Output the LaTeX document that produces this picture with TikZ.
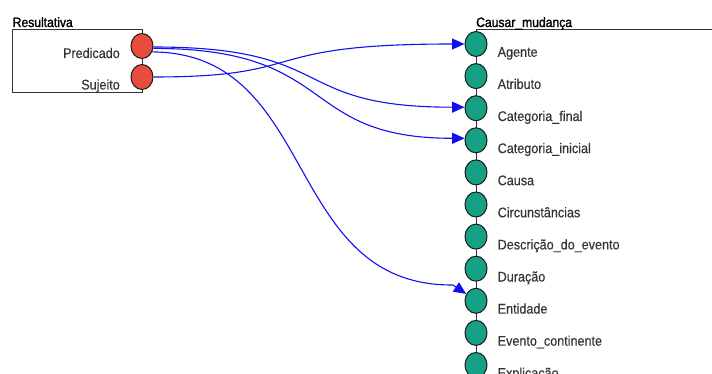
\documentclass[tikz,border=0pt]{standalone}
\usepackage{fontspec}
\setmainfont[FakeStretch=0.9,FakeBold=0.3]{Liberation Sans}
\newfontfamily\titlefont[FakeStretch=0.9,FakeBold=1.6]{Liberation Sans}
\usetikzlibrary{shapes.geometric,arrows.meta}
\definecolor{rolered}{HTML}{E74C3C}
\definecolor{rolegreen}{HTML}{16A085}
\definecolor{labelgray}{HTML}{333333}
\definecolor{framegray}{HTML}{333333}
\definecolor{linkblue}{HTML}{1010F0}
\begin{document}
\begin{tikzpicture}[x=1pt,y=-1pt,
  frame/.style={draw=framegray, line width=0.9pt, inner sep=0pt, anchor=north west},
  fe/.style={ellipse, draw=black!90, line width=1pt, minimum width=22pt, minimum height=25pt, inner sep=0pt},
  srcfe/.style={fe, fill=rolered},
  tgtfe/.style={fe, fill=rolegreen},
  felabel/.style={font=\fontsize{14}{16}\selectfont, text=labelgray, inner sep=0pt},
  frametitle/.style={font=\titlefont\fontsize{13.5}{16}\selectfont, anchor=base west, inner sep=0pt},
  link/.style={draw=linkblue, line width=1.1pt, -{Triangle[length=12.5pt,width=11pt]}},
]
\useasboundingbox (0,0) rectangle (712,374);

% frames
\node[frame, minimum width=130pt, minimum height=62.5pt] (resbox) at (12,29.5) {};
\node[frame, minimum width=260pt, minimum height=380pt] (cmbox) at (476,29.5) {};
\node[frametitle] (restitle) at (12.5,27) {Resultativa};
\node[frametitle] (cmtitle) at (476,27) {Causar\_mudança};

% source frame elements
\node[srcfe] (p1) at (142,46) {};
\node[srcfe] (p2) at (142,77) {};
\node[felabel, anchor=base east] (l1) at (120,58) {Predicado};
\node[felabel, anchor=base east] (l2) at (120,89.5) {Sujeito};

% target frame elements
\foreach \i/\txt in {1/Agente,2/Atributo,3/Categoria\_final,4/Categoria\_inicial,5/Causa,6/Circunstâncias,7/Descrição\_do\_evento,8/Duração,9/Entidade,10/Evento\_continente,11/Explicação}{
  \node[tgtfe] (g\i) at (476,{44+32.1*(\i-1)}) {};
  \node[felabel, anchor=base west] (t\i) at (497.5,{44+32.1*(\i-1)+12.8}) {\txt};
}

% mappings
\draw[link] (p2.east) .. controls +(161,0) and +(-212,0) .. (g1.west);
\draw[link] (p1.-5) .. controls +(186,0) and +(-178,0) .. (g3.175);
\draw[link] (p1.-12) .. controls +(187,0) and +(-168,0) .. (g4.170);
\coordinate (bendend) at (453,285);
\draw[link] (p1.-30) .. controls (320,53) and (282,286) .. (bendend) -- (g9.145);
\end{tikzpicture}
\end{document}
